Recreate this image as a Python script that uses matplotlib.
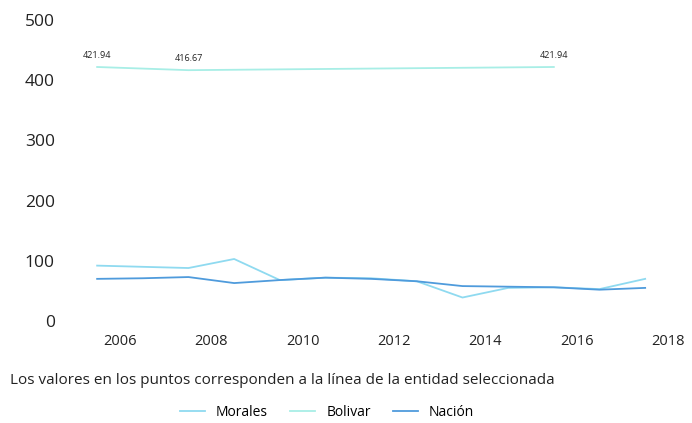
import matplotlib
matplotlib.use("Agg")
import matplotlib.pyplot as plt

plt.rcParams['font.family'] = ['Open Sans', 'DejaVu Sans']

years = [2005.5, 2006.5, 2007.5, 2008.5, 2009.5, 2010.5, 2011.5, 2012.5, 2013.5, 2014.5, 2015.5, 2016.5, 2017.5]
morales = [92, 90, 88, 103, 68, 72, 71, 66, 39, 55, 56, 53, 70]
nacion = [70, 71, 73, 63, 68, 72, 70, 66, 58, 57, 56, 52, 55]
bolivar_years = [2005.5, 2007.5, 2015.5]
bolivar = [421.94, 416.67, 421.94]
xticks = [2006, 2008, 2010, 2012, 2014, 2016, 2018]
yticks = [0, 100, 200, 300, 400, 500]

c_morales = '#8fdaf0'
c_bolivar = '#a8eee6'
c_nacion = '#4f9bdc'

fig = plt.figure(figsize=(6.92, 4.23), dpi=100)
ax = fig.add_axes([74.3 / 692, 1 - 321 / 423, (681.7 - 74.3) / 692, (321 - 20) / 423])

ax.plot(years, morales, color=c_morales, lw=1.3, label='Morales')
ax.plot(bolivar_years, bolivar, color=c_bolivar, lw=1.3, label='Bolivar')
ax.plot(years, nacion, color=c_nacion, lw=1.3, label='Nación')

for x, v in zip(bolivar_years, bolivar):
    ax.annotate(f'{v:.2f}', (x, v), xytext=(0, 5), textcoords='offset points',
                ha='center', va='bottom', fontsize=6.5, color='#222222')

ax.set_xlim(2005.0, 2018.3)
ax.set_ylim(0, 500)
ax.set_xticks(xticks)
ax.set_xticklabels([str(t) for t in xticks])
ax.set_yticks(yticks)
ax.tick_params(axis='both', length=0, colors='#222222')
ax.tick_params(axis='y', labelsize=12.5, pad=14)
ax.tick_params(axis='x', labelsize=10.5, pad=9)
for s in ax.spines.values():
    s.set_visible(False)

fig.text(10 / 692, 1 - 380 / 423, 'Los valores en los puntos corresponden a la línea de la entidad seleccionada',
         fontsize=11, va='center', ha='left', color='#222222')

fig.legend(loc='center', bbox_to_anchor=(327 / 692, 1 - 412 / 423), ncol=3, frameon=False,
           fontsize=10, handlelength=1.8, columnspacing=1.6, handletextpad=0.8)

fig.savefig('out.png', dpi=100)
